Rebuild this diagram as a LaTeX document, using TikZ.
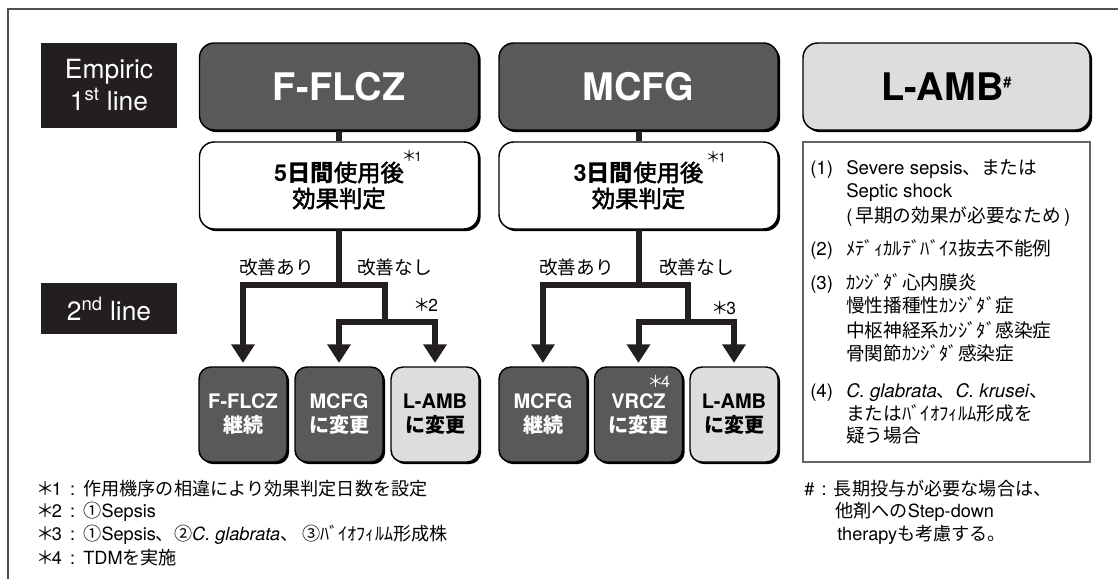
\documentclass[tikz,border=0pt]{standalone}
\usepackage{fontspec}
\setmainfont{TeX Gyre Heros}
\newfontfamily\jp{Noto Sans CJK JP}
\newfontfamily\jpm{Noto Sans CJK JP}[FakeBold=2.2]
\usetikzlibrary{arrows.meta,shadows}
\definecolor{dk}{HTML}{58595B}
\definecolor{lt}{HTML}{DCDDDE}
\definecolor{blk}{HTML}{231F20}
\definecolor{frm}{HTML}{505050}
\newcommand\AST{{\jp\hbox to 0.7em{\hss ＊\hss}}}
\begin{document}
\begin{tikzpicture}[x=0.75pt,y=-0.75pt,
  rowlabel/.style={fill=blk, text=white, inner sep=0pt, align=center,
    font=\fontsize{19.8}{24}\selectfont},
  shadowed/.style={drop shadow={shadow xshift=1.6pt, shadow yshift=-1.6pt, fill=black, opacity=1}},
  bigbox/.style={shadowed, rounded corners=11pt, draw=black, line width=1.1pt,
    minimum width=209.25pt, minimum height=65.25pt, inner sep=0pt, align=center},
  bigfont/.style={font=\fontsize{28.5}{30}\selectfont\bfseries},
  evalfont/.style={font=\jpm\fontsize{17.5}{19.5}\selectfont},
  smallbox/.style={shadowed, rounded corners=9pt, draw=black, line width=1.1pt,
    minimum width=66pt, minimum height=71.25pt, inner sep=0pt, align=center,
    font=\fontsize{15}{18}\selectfont\bfseries},
  conn/.style={line width=4.5pt, draw=blk},
  arr/.style={conn, -{Triangle[width=17pt,length=14pt]}, shorten >=2.5pt},
  lbl/.style={font=\jp\fontsize{14}{16}\selectfont, inner sep=0pt},
  lst/.style={anchor=base west, inner sep=0pt, font=\fontsize{14}{16}\selectfont},
  fn/.style={anchor=base west, inner sep=0pt, font=\fontsize{13.6}{16}\selectfont},
  smark/.style={inner sep=0pt, font=\fontsize{11}{12}\selectfont}
]
\useasboundingbox (0,0) rectangle (1118,579);
\draw[draw=frm, line width=0.8pt] (8,579) -- (8,9) -- (1118,9);

% row labels
\node[rowlabel, minimum width=102pt, minimum height=63.75pt] (emp) at (109,85.5) {Empiric\\1\textsuperscript{st} line};
\node[rowlabel, minimum width=102pt, minimum height=38.25pt] (sec) at (109,308.5) {2\textsuperscript{nd} line};

% top row
\node[bigbox, bigfont, fill=dk, text=white] (m1) at (339,86.5) {F-FLCZ};
\node[bigbox, evalfont, fill=white] (e1) at (339,185.5) {{\rmfamily\bfseries 5}{\jp\bfseries 日間}使用後\\効果判定};
\node[bigbox, bigfont, fill=dk, text=white] (m2) at (638.5,86.5) {MCFG};
\node[bigbox, evalfont, fill=white] (e2) at (638.5,185.5) {{\rmfamily\bfseries 3}{\jp\bfseries 日間}使用後\\効果判定};
\node[bigbox, bigfont, fill=lt, minimum width=215.25pt] (m3) at (946.5,86.5) {L-AMB\raisebox{10pt}{\fontsize{11}{11}\selectfont\#}};
\node[smark] (f1) at (413,156) {\AST\fontsize{10}{10}\selectfont 1};
\node[smark] (f2) at (717,157) {\AST\fontsize{10}{10}\selectfont 1};

\draw[conn] (m1.south) -- (e1.north);
\draw[conn] (m2.south) -- (e2.north);

% list box
\node[draw=black!60, line width=0.9pt, minimum width=215.25pt, minimum height=240pt, inner sep=0pt] (lbox) at (946.5,302) {};

% second row boxes
\node[smallbox, fill=dk, text=white] (b11) at (243,414.5) {F-FLCZ\\{\jp 継続}};
\node[smallbox, fill=dk, text=white] (b12) at (339,414.5) {MCFG\\{\jp に変更}};
\node[smallbox, fill=lt] (b13) at (435,414.5) {L-AMB\\{\jp に変更}};
\node[smallbox, fill=dk, text=white] (b21) at (543,414.5) {MCFG\\{\jp 継続}};
\node[smallbox, fill=dk, text=white] (b22) at (638.5,414.5) {VRCZ\\{\jp に変更}};
\node[smallbox, fill=lt] (b23) at (734,414.5) {L-AMB\\{\jp に変更}};
\node[smark, text=white, font=\fontsize{12}{12}\selectfont] (f4) at (660,381) {\AST 4};

% connectors column 1
\coordinate (j1) at (339,285);
\coordinate (k1) at (385,322);
\draw[conn] (e1.south) -- (j1);
\draw[arr] (j1) -| (b11.north);
\draw[conn] (j1) -| (k1);
\draw[arr] (k1) -| (b12.north);
\draw[arr] (k1) -| (b13.north);
% connectors column 2
\coordinate (j2) at (638.5,285);
\coordinate (k2) at (688,322);
\draw[conn] (e2.south) -- (j2);
\draw[arr] (j2) -| (b21.north);
\draw[conn] (j2) -| (k2);
\draw[arr] (k2) -| (b22.north);
\draw[arr] (k2) -| (b23.north);

% branch labels
\node[lbl] (a1) at (276.5,267) {改善あり};
\node[lbl] (n1) at (394.5,267) {改善なし};
\node[lbl] (a2) at (576.5,267) {改善あり};
\node[lbl] (n2) at (696.5,267) {改善なし};
\node[smark, font=\fontsize{13}{13}\selectfont] (s2) at (427,305) {\AST 2};
\node[smark, font=\fontsize{13}{13}\selectfont] (s3) at (725,308) {\AST 3};

% list text
\node[lst] (l1n) at (810,174) {(1)};
\node[lst] (l1a) at (846,174) {Severe sepsis{\jp 、または}};
\node[lst] (l1b) at (846,197) {Septic shock};
\node[lst] (l1c) at (846,222) {(\,{\jp 早期の効果が必要なため}\,)};
\node[lst] (l2n) at (810,255) {(2)};
\node[lst] (l2a) at (846,255) {\jp ﾒﾃﾞｨｶﾙﾃﾞﾊﾞｲｽ抜去不能例};
\node[lst] (l3n) at (810,289) {(3)};
\node[lst] (l3a) at (846,289) {\jp ｶﾝｼﾞﾀﾞ心内膜炎};
\node[lst] (l3b) at (846,312) {\jp 慢性播種性ｶﾝｼﾞﾀﾞ症};
\node[lst] (l3c) at (846,337) {\jp 中枢神経系ｶﾝｼﾞﾀﾞ感染症};
\node[lst] (l3d) at (846,360) {\jp 骨関節ｶﾝｼﾞﾀﾞ感染症};
\node[lst] (l4n) at (810,397) {(4)};
\node[lst] (l4a) at (846,397) {\textit{C. glabrata}{\jp 、}\textit{C. krusei}{\jp 、}};
\node[lst] (l4b) at (846,420) {\jp またはﾊﾞｲｵﾌｨﾙﾑ形成を};
\node[lst] (l4c) at (846,442) {\jp 疑う場合};

% footnotes
\node[fn] (fn1) at (39,495) {\AST1\hspace{0.45em}:\hspace{0.45em}{\jp 作用機序の相違により効果判定日数を設定}};
\node[fn] (fn2) at (39,517) {\AST2\hspace{0.45em}:\hspace{0.45em}{\jp ①}Sepsis};
\node[fn] (fn3) at (39,540) {\AST3\hspace{0.45em}:\hspace{0.45em}{\jp ①}Sepsis{\jp 、②}\textit{C. glabrata}{\jp 、 ③ﾊﾞｲｵﾌｨﾙﾑ形成株}};
\node[fn] (fn4) at (39,564) {\AST4\hspace{0.45em}:\hspace{0.45em}TDM{\jp を実施}};
\node[fn] (fh1) at (804,495) {\#\hspace{0.4em}:\hspace{0.4em}{\jp 長期投与が必要な場合は、}};
\node[fn] (fh2) at (835,517) {{\jp 他剤への}Step-down};
\node[fn] (fh3) at (837,540) {therapy{\jp も考慮する。}};
\end{tikzpicture}
\end{document}
